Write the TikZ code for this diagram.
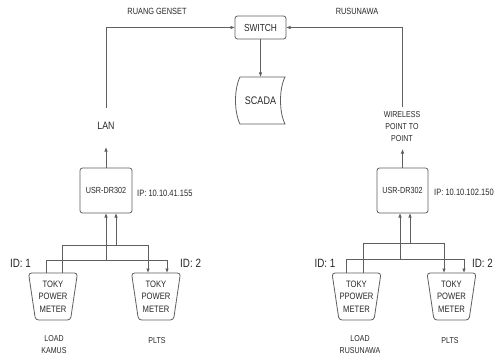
\documentclass[tikz,border=0pt]{standalone}
\usepackage{fontspec}
\setmainfont{Liberation Sans}[FakeStretch=0.82]
\usetikzlibrary{arrows.meta,calc}
\definecolor{linec}{RGB}{95,95,95}
\definecolor{textc}{RGB}{40,40,40}
\begin{document}
\begin{tikzpicture}[x=1pt,y=-1pt,
  line/.style={draw=linec, line width=0.8pt},
  arr/.style={line, -{Latex[length=4.5pt,width=3.6pt]}},
  box/.style={line, rounded corners=2.5pt, inner sep=0pt, outer sep=0pt, text=textc},
  meter/.style={minimum width=49pt, minimum height=47pt, inner sep=0pt, outer sep=0pt, align=center, text=textc, font=\fontsize{9.3}{12.5}\selectfont},
  lbl/.style={text=textc, inner sep=0pt, align=center, font=\fontsize{9}{11.5}\selectfont},
  idl/.style={text=textc, inner sep=0pt, font=\fontsize{12}{14}\selectfont},
  ipl/.style={text=textc, inner sep=0pt, anchor=west, font=\fontsize{9.2}{11}\selectfont}]
\useasboundingbox (0,0) rectangle (494,358);
\fill[white] (0,0) rectangle (494,358);

% top
\node[box, minimum width=51pt, minimum height=23pt, font=\fontsize{10.2}{12}\selectfont] (sw) at (260.5,27.5) {SWITCH};
\node[inner sep=0pt, outer sep=0pt, minimum width=49pt, minimum height=47pt, text=textc, font=\fontsize{11}{12}\selectfont] (scada) at (260.5,100.5) {SCADA};
\draw[line] ($(scada.north west)+(4,0)$) -- (scada.north east)
  .. controls ($(scada.north east)+(-6,12)$) and ($(scada.south east)+(-6,-12)$) .. (scada.south east)
  -- ($(scada.south west)+(4,0)$)
  .. controls ($(scada.south west)+(-2,-12)$) and ($(scada.north west)+(-2,12)$) .. cycle;
\draw[arr] (sw.south) -- (scada.north);

\node[lbl] (rg) at (157,11) {RUANG GENSET};
\node[lbl] (ru) at (357,11) {RUSUNAWA};

% left side
\node[box, minimum width=52pt, minimum height=45pt, font=\fontsize{8.8}{11}\selectfont] (u1) at (106,190.5) {USR-DR302};
\node[ipl] (ip1) at (137,193) {IP: 10.10.41.155};
\node[text=textc, inner sep=0pt, font=\fontsize{10.7}{12}\selectfont] (lan) at (106,126) {LAN};
\coordinate (lantop) at (106,108);
\draw[arr] (lantop) |- (sw.west);
\draw[arr] (u1.north) -- ++(0,-21);

\node[meter] (m1) at (53,296.5) {TOKY\\POWER\\METER};
\node[meter] (m2) at (156,296.5) {TOKY\\POWER\\METER};
\node[idl] (id1) at (20.5,263) {ID: 1};
\node[idl, anchor=west] (id2) at (180,263) {ID: 2};
\node[lbl, font=\fontsize{8.6}{11.5}\selectfont] (ld1) at (54,344.5) {LOAD\\KAMUS};
\node[lbl, font=\fontsize{8.6}{11.5}\selectfont] (pl1) at (157,341) {PLTS};

\draw[arr] ($(m1.north)+(-7,0)$) -- ++(0,-13) -| ($(m2.north)+(11,0)$);
\draw[arr] ($(m1.north)+(9,0)$) -- ++(0,-28) -| ($(m2.north)+(-8,0)$);
\draw[arr] ($(u1.south)+(0,47)$) -- (u1.south);
\draw[arr] ($(u1.south)+(10,32)$) -- ++(0,-32);

% right side
\node[box, minimum width=51pt, minimum height=45pt, font=\fontsize{8.8}{11}\selectfont] (u2) at (402.5,190.5) {USR-DR302};
\node[ipl] (ip2) at (434,192) {IP: 10.10.102.150};
\node[lbl, font=\fontsize{8.6}{12}\selectfont] (wl) at (402,127) {WIRELESS\\POINT TO\\POINT};
\coordinate (wtop) at (402,107);
\draw[arr] (wtop) |- (sw.east);
\draw[arr] (u2.north) -- ++(0,-19);

\node[meter] (m3) at (356.5,296.5) {TOKY\\PPOWER\\METER};
\node[meter] (m4) at (451.5,296.5) {TOKY\\POWER\\METER};
\node[idl] (id3) at (325,263) {ID: 1};
\node[idl, anchor=east] (id4) at (493,263) {ID: 2};
\node[lbl, font=\fontsize{8.6}{11.5}\selectfont] (ld2) at (360,344.5) {LOAD\\RUSUNAWA};
\node[lbl, font=\fontsize{8.6}{11.5}\selectfont] (pl2) at (450,341) {PLTS};

\draw[arr] ($(m3.north)+(-10.5,0)$) -- ++(0,-14) -| ($(m4.north)+(12.5,0)$);
\draw[arr] ($(m3.north)+(6.5,0)$) -- ++(0,-30) -| ($(m4.north)+(-7.5,0)$);
\draw[arr] ($(u2.south)+(-2.5,46)$) -- ++(0,-46);
\draw[arr] ($(u2.south)+(7.5,30)$) -- ++(0,-30);

% meter shapes
\foreach \m in {m1,m2,m3,m4}
  \draw[line, rounded corners=3pt] (\m.north west) -- ($(\m.south west)+(7,0)$) -- ($(\m.south east)+(-7,0)$) -- (\m.north east) -- cycle;
\end{tikzpicture}
\end{document}
